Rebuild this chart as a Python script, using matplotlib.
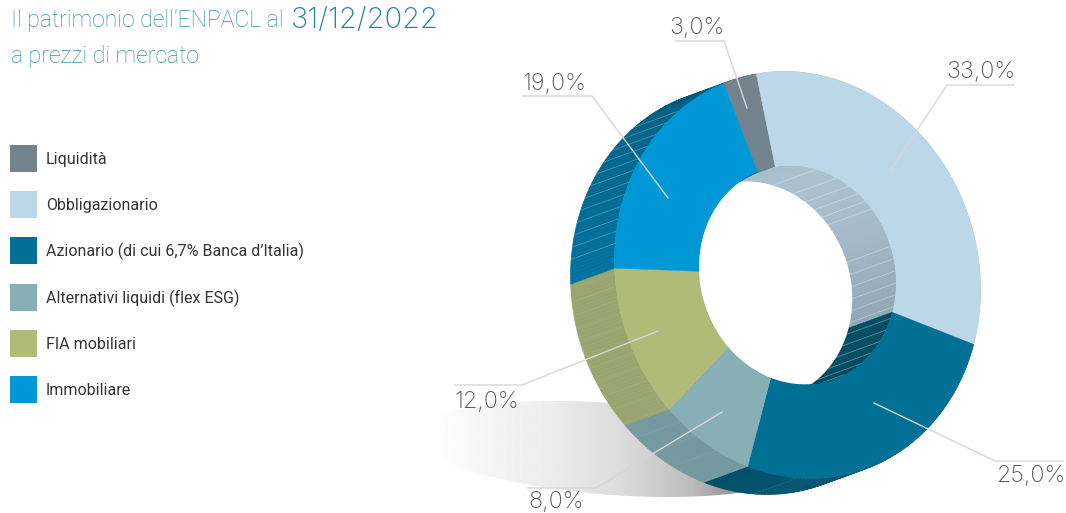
import matplotlib
matplotlib.use('Agg')
import matplotlib.pyplot as plt
from matplotlib.colors import to_rgb
from matplotlib.patches import Polygon, Rectangle
import numpy as np

# data
categories = ['Liquidità', 'Obbligazionario', 'Azionario (di cui 6,7% Banca d’Italia)',
              'Alternativi liquidi (flex ESG)', 'FIA mobiliari', 'Immobiliare']
values = [3.0, 33.0, 25.0, 8.0, 12.0, 19.0]
value_labels = ['3,0%', '33,0%', '25,0%', '8,0%', '12,0%', '19,0%']

COLORS = ['#74848e', '#bcd7e8', '#007095', '#88afb6', '#b0bb78', '#0097d7']
OUTER_WALL = [('#6f7f88', '#6f7f88'), ('#a5bccb', '#a5bccb'), ('#005f7c', '#00506b'),
              ('#74999f', '#74999f'), ('#9aa56e', '#9aa56e'), ('#00729f', '#005a7c')]
INNER_WALL = [('#6f7f88', '#6f7f88'), ('#8ea5b3', '#a9c0ce'), ('#004a62', '#004a62'),
              ('#74999f', '#74999f'), ('#9aa56e', '#9aa56e'), ('#00729f', '#005a7c')]

TITLE_TEAL = '#2f8fa9'

CX, CY = 797.5, 275.0
RX, RY = 183.0, 203.0
IRX, IRY = 98.5, 109.0
SHEAR = 0.08
DX, DY = -44.0, 16.0
START = -23.8

fig = plt.figure(figsize=(10.66, 5.13), dpi=100)
ax = fig.add_axes([0, 0, 1, 1])
ax.set_xlim(0, 1066)
ax.set_ylim(513, 0)
ax.axis('off')


def ell(t_deg, rx, ry, dx=0.0, dy=0.0):
    t = np.radians(t_deg)
    x = CX + rx * np.sin(t)
    y = CY - ry * np.cos(t) + SHEAR * rx * np.sin(t)
    return np.column_stack([x + dx, y + dy])


def mix(c1, c2, f):
    a, b = np.array(to_rgb(c1)), np.array(to_rgb(c2))
    return tuple(a + (b - a) * f)


edges = START + np.concatenate([[0], np.cumsum(values)]) * 3.6

# shadow under the ring
sx = np.linspace(0, 1, 400)
grey = np.interp(sx, [0, 0.15, 0.35, 0.55, 0.72, 0.86, 1.0],
                 [1.0, 0.96, 0.92, 0.85, 0.74, 0.56, 0.45])
img = ax.imshow(np.tile(grey, (4, 1)), cmap='gray', vmin=0, vmax=1, aspect='auto',
                extent=[435, 790, 500, 400], zorder=1)
st = np.radians(np.linspace(0, 360, 200))
shadow = Polygon(np.column_stack([612 + 195 * np.cos(st),
                                  449 + 46 * np.sin(st) + 0.07 * 195 * np.cos(st)]),
                 transform=ax.transData, fill=False, edgecolor='none')
ax.add_patch(shadow)
img.set_clip_path(shadow)
ax.set_xlim(0, 1066)
ax.set_ylim(513, 0)

# outer walls
for i in [1, 2, 3, 4, 0, 5]:
    a0, a1 = edges[i], edges[i + 1]
    steps = np.linspace(a0, a1, max(int(a1 - a0), 2) + 1)
    for j in range(len(steps) - 1):
        seg = np.array([steps[j], steps[j + 1]])
        col = mix(OUTER_WALL[i][0], OUTER_WALL[i][1], j / max(len(steps) - 2, 1))
        p = np.vstack([ell(seg, RX, RY), ell(seg[::-1], RX, RY, DX, DY)])
        ax.add_patch(Polygon(p, facecolor=col, edgecolor=col, lw=0.4, zorder=2))

# hatch lines on the outer wall, evenly spaced in height
for y in np.arange(258, 120, -12.5):
    c = (CY - y) / RY
    t = -np.degrees(np.arccos(np.clip(c, -1, 1)))
    pts = np.vstack([ell([t], RX, RY), ell([t], RX, RY, DX, DY)])
    ax.plot(pts[:, 0], pts[:, 1], color='white', lw=0.5, alpha=0.3, zorder=2.5)
for y in np.arange(288, 495, 13.0):
    c = (CY - y) / RY
    t = -np.degrees(np.arccos(np.clip(c, -1, 1)))
    pts = np.vstack([ell([t], RX, RY), ell([t], RX, RY, DX, DY)])
    ax.plot(pts[:, 0], pts[:, 1], color='white', lw=0.4, alpha=0.12, zorder=2.5)

# top face
for i, col in enumerate(COLORS):
    arc = np.linspace(edges[i], edges[i + 1], 120)
    p = np.vstack([ell(arc, RX, RY), ell(arc[::-1], IRX, IRY)])
    ax.add_patch(Polygon(p, facecolor=col, edgecolor=col, lw=0.3, zorder=3))

# inner walls, only seen through the hole
full = np.linspace(0, 360, 361)
hole = Polygon(ell(full, IRX, IRY), transform=ax.transData, fill=False, edgecolor='none')
ax.add_patch(hole)
for i in range(len(values)):
    a0, a1 = edges[i], edges[i + 1]
    steps = np.linspace(a0, a1, max(int(a1 - a0), 2) + 1)
    for j in range(len(steps) - 1):
        seg = np.array([steps[j], steps[j + 1]])
        col = mix(INNER_WALL[i][0], INNER_WALL[i][1], abs(np.sin(np.radians(steps[j] - 106))))
        if i != 1:
            col = mix(INNER_WALL[i][0], INNER_WALL[i][1], 0.5)
        p = np.vstack([ell(seg, IRX, IRY), ell(seg[::-1], IRX, IRY, DX, DY)])
        w = Polygon(p, facecolor=col, edgecolor=col, lw=0.4, zorder=4)
        ax.add_patch(w)
        w.set_clip_path(hole)

# hatch lines on the inner wall
wall_y = list(np.arange(383, 232, -12.0)) + list(np.arange(203, 165, -7.0))
for y in wall_y:
    c = (CY - y) / IRY
    t = np.degrees(np.arccos(np.clip(c, -1, 1)))
    pts = np.vstack([ell([t], IRX, IRY), ell([t], IRX, IRY, DX, DY)])
    ln, = ax.plot(pts[:, 0], pts[:, 1], color='white', lw=0.6, alpha=0.35, zorder=4.5)
    ln.set_clip_path(hole)

# see-through part of the hole
white = Polygon(ell(full, IRX, IRY, DX, DY), facecolor='white', edgecolor='white', lw=0.3, zorder=5)
ax.add_patch(white)
white.set_clip_path(hole)

# leader lines and value labels
LEADERS = {
    '3,0%': [(676, 41), (724, 41), (747, 108)],
    '33,0%': [(1014, 85), (947, 85), (890, 171)],
    '25,0%': [(1063, 461), (995, 461), (874, 403)],
    '8,0%': [(528, 488), (596, 488), (722, 412)],
    '12,0%': [(455, 385), (522, 385), (658, 331)],
    '19,0%': [(523, 96), (592, 96), (668, 198)],
}
LABEL_POS = {
    '3,0%': (669, 27.5), '33,0%': (946, 72.5), '25,0%': (997, 476.5),
    '8,0%': (528, 502.5), '12,0%': (455, 402.5), '19,0%': (523, 84.5),
}
for lab in value_labels:
    pts = np.array(LEADERS[lab])
    ax.plot(pts[:, 0], pts[:, 1], color='#d6d6d6', lw=1.0, zorder=6)
    ax.text(*LABEL_POS[lab], lab, family='Inter', weight='light', fontsize=16.8,
            color='#555555', ha='left', va='center', zorder=7)

# legend
legend_y = [145, 191, 237, 284, 330, 376]
for name, col, y in zip(categories, COLORS, legend_y):
    ax.add_patch(Rectangle((10, y), 27, 27, facecolor=col, edgecolor='none', zorder=3))
    ax.text(46, y + 14.5, name, family='Roboto', fontsize=11.5, color='#333333',
            ha='left', va='center')

# title
ax.text(11, 20.5, 'Il patrimonio dell’ENPACL al', family='Roboto', weight='light',
        fontsize=16.6, color=TITLE_TEAL, ha='left', va='center')
ax.text(291, 20.5, '31/12/2022', family='Inter', weight='light',
        fontsize=21, color='#1f80a0', ha='left', va='center')
ax.text(11, 56.5, 'a prezzi di mercato', family='Roboto', weight='light',
        fontsize=16.6, color=TITLE_TEAL, ha='left', va='center')

fig.savefig('out.png', dpi=100)
plt.close()
print('OK')
